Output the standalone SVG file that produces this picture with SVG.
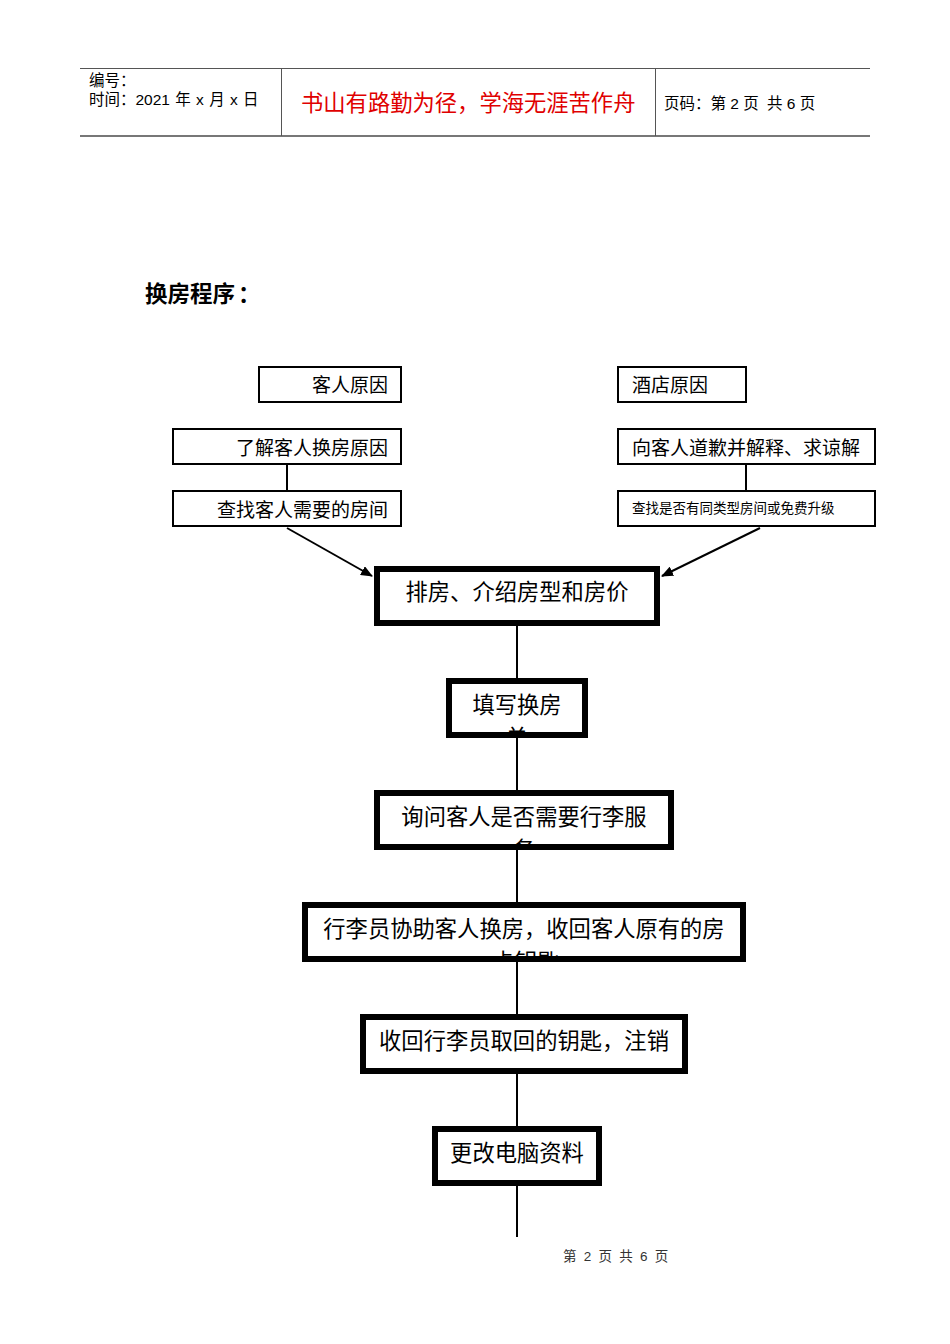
<svg xmlns="http://www.w3.org/2000/svg" width="950" height="1344" viewBox="0 0 950 1344">
<defs>
<style>
text{font-family:"Liberation Sans","Noto Sans CJK SC",sans-serif;fill:#000}
.hd{font-size:15.5px}
.thin{fill:#fff;stroke:#000;stroke-width:2}
.thick{fill:#fff;stroke:#000;stroke-width:6}
.t18{font-size:19px}
.t22{font-size:22.3px;text-anchor:middle}
.ln{stroke:#000;stroke-width:2;fill:none}
</style>
<marker id="ah" markerWidth="12" markerHeight="10" refX="11" refY="5" orient="auto" markerUnits="userSpaceOnUse">
<path d="M0,0 L12,5 L0,10 Z" fill="#000"/>
</marker>
<clipPath id="c8"><rect x="449" y="681" width="136" height="52"/></clipPath>
<clipPath id="c9"><rect x="377" y="793" width="294" height="52"/></clipPath>
<clipPath id="c10"><rect x="305" y="905" width="438" height="52"/></clipPath>
</defs>
<rect width="950" height="1344" fill="#fff"/>

<g id="header">
<line x1="80" y1="68.5" x2="870" y2="68.5" stroke="#555" stroke-width="1"/>
<line x1="80" y1="136" x2="870" y2="136" stroke="#777" stroke-width="2"/>
<line x1="281.5" y1="68" x2="281.5" y2="136" stroke="#555" stroke-width="1"/>
<line x1="655.5" y1="68" x2="655.5" y2="136" stroke="#555" stroke-width="1"/>
<text class="hd" x="89" y="86">编号：</text>
<text class="hd" x="89" y="105" style="word-spacing:1px">时间：2021 年 x 月 x 日</text>
<text x="301" y="111" style="font-size:22.3px;fill:#e00000">书山有路勤为径，学海无涯苦作舟</text>
<text class="hd" x="664" y="109">页码：第 2 页 <tspan dx="4">共 6 页</tspan></text>
</g>

<text id="title" x="145" y="302" style="font-size:22.5px;font-weight:bold">换房程序<tspan dx="3">：</tspan></text>

<g id="connectors">
<line class="ln" x1="287" y1="464" x2="287" y2="491"/>
<line class="ln" x1="746" y1="464" x2="746" y2="491"/>
<line class="ln" x1="287" y1="528" x2="372" y2="576" marker-end="url(#ah)"/>
<line class="ln" x1="760" y1="528" x2="662" y2="576" marker-end="url(#ah)"/>
<line class="ln" x1="517" y1="626" x2="517" y2="678"/>
<line class="ln" x1="517" y1="738" x2="517" y2="790"/>
<line class="ln" x1="517" y1="850" x2="517" y2="902"/>
<line class="ln" x1="517" y1="962" x2="517" y2="1014"/>
<line class="ln" x1="517" y1="1074" x2="517" y2="1126"/>
<line class="ln" x1="517" y1="1186" x2="517" y2="1237"/>
</g>

<g id="n1"><rect class="thin" x="259" y="367" width="142" height="35"/><text class="t18" x="388" y="392" text-anchor="end">客人原因</text></g>
<g id="n2"><rect class="thin" x="173" y="429" width="228" height="35"/><text class="t18" x="388" y="455" text-anchor="end">了解客人换房原因</text></g>
<g id="n3"><rect class="thin" x="173" y="491" width="228" height="35"/><text class="t18" x="388" y="517" text-anchor="end">查找客人需要的房间</text></g>
<g id="n4"><rect class="thin" x="618" y="367" width="128" height="35"/><text class="t18" x="632" y="392">酒店原因</text></g>
<g id="n5"><rect class="thin" x="618" y="429" width="257" height="35"/><text class="t18" x="632" y="455">向客人道歉并解释、求谅解</text></g>
<g id="n6"><rect class="thin" x="618" y="491" width="257" height="35"/><text x="632" y="513" style="font-size:13.5px">查找是否有同类型房间或免费升级</text></g>

<g id="n7"><rect class="thick" x="377" y="569" width="280" height="54"/><text class="t22" x="517" y="600">排房、介绍房型和房价</text></g>
<g id="n8"><rect class="thick" x="449" y="681" width="136" height="54"/><text class="t22" x="517" y="713">填写换房</text><text class="t22" x="517" y="746" clip-path="url(#c8)">单</text></g>
<g id="n9"><rect class="thick" x="377" y="793" width="294" height="54"/><text class="t22" x="524" y="825">询问客人是否需要行李服</text><text class="t22" x="524" y="858" clip-path="url(#c9)">务</text></g>
<g id="n10"><rect class="thick" x="305" y="905" width="438" height="54"/><text class="t22" x="524" y="937">行李员协助客人换房，收回客人原有的房</text><text class="t22" x="526" y="970" clip-path="url(#c10)">卡钥匙</text></g>
<g id="n11"><rect class="thick" x="363" y="1017" width="322" height="54"/><text class="t22" x="524" y="1049">收回行李员取回的钥匙，注销</text></g>
<g id="n12"><rect class="thick" x="435" y="1129" width="164" height="54"/><text class="t22" x="517" y="1161">更改电脑资料</text></g>

<text id="footer" x="563" y="1261" style="font-size:13.5px;fill:#333;word-spacing:3.5px">第 2 页 共 6 页</text>
</svg>
